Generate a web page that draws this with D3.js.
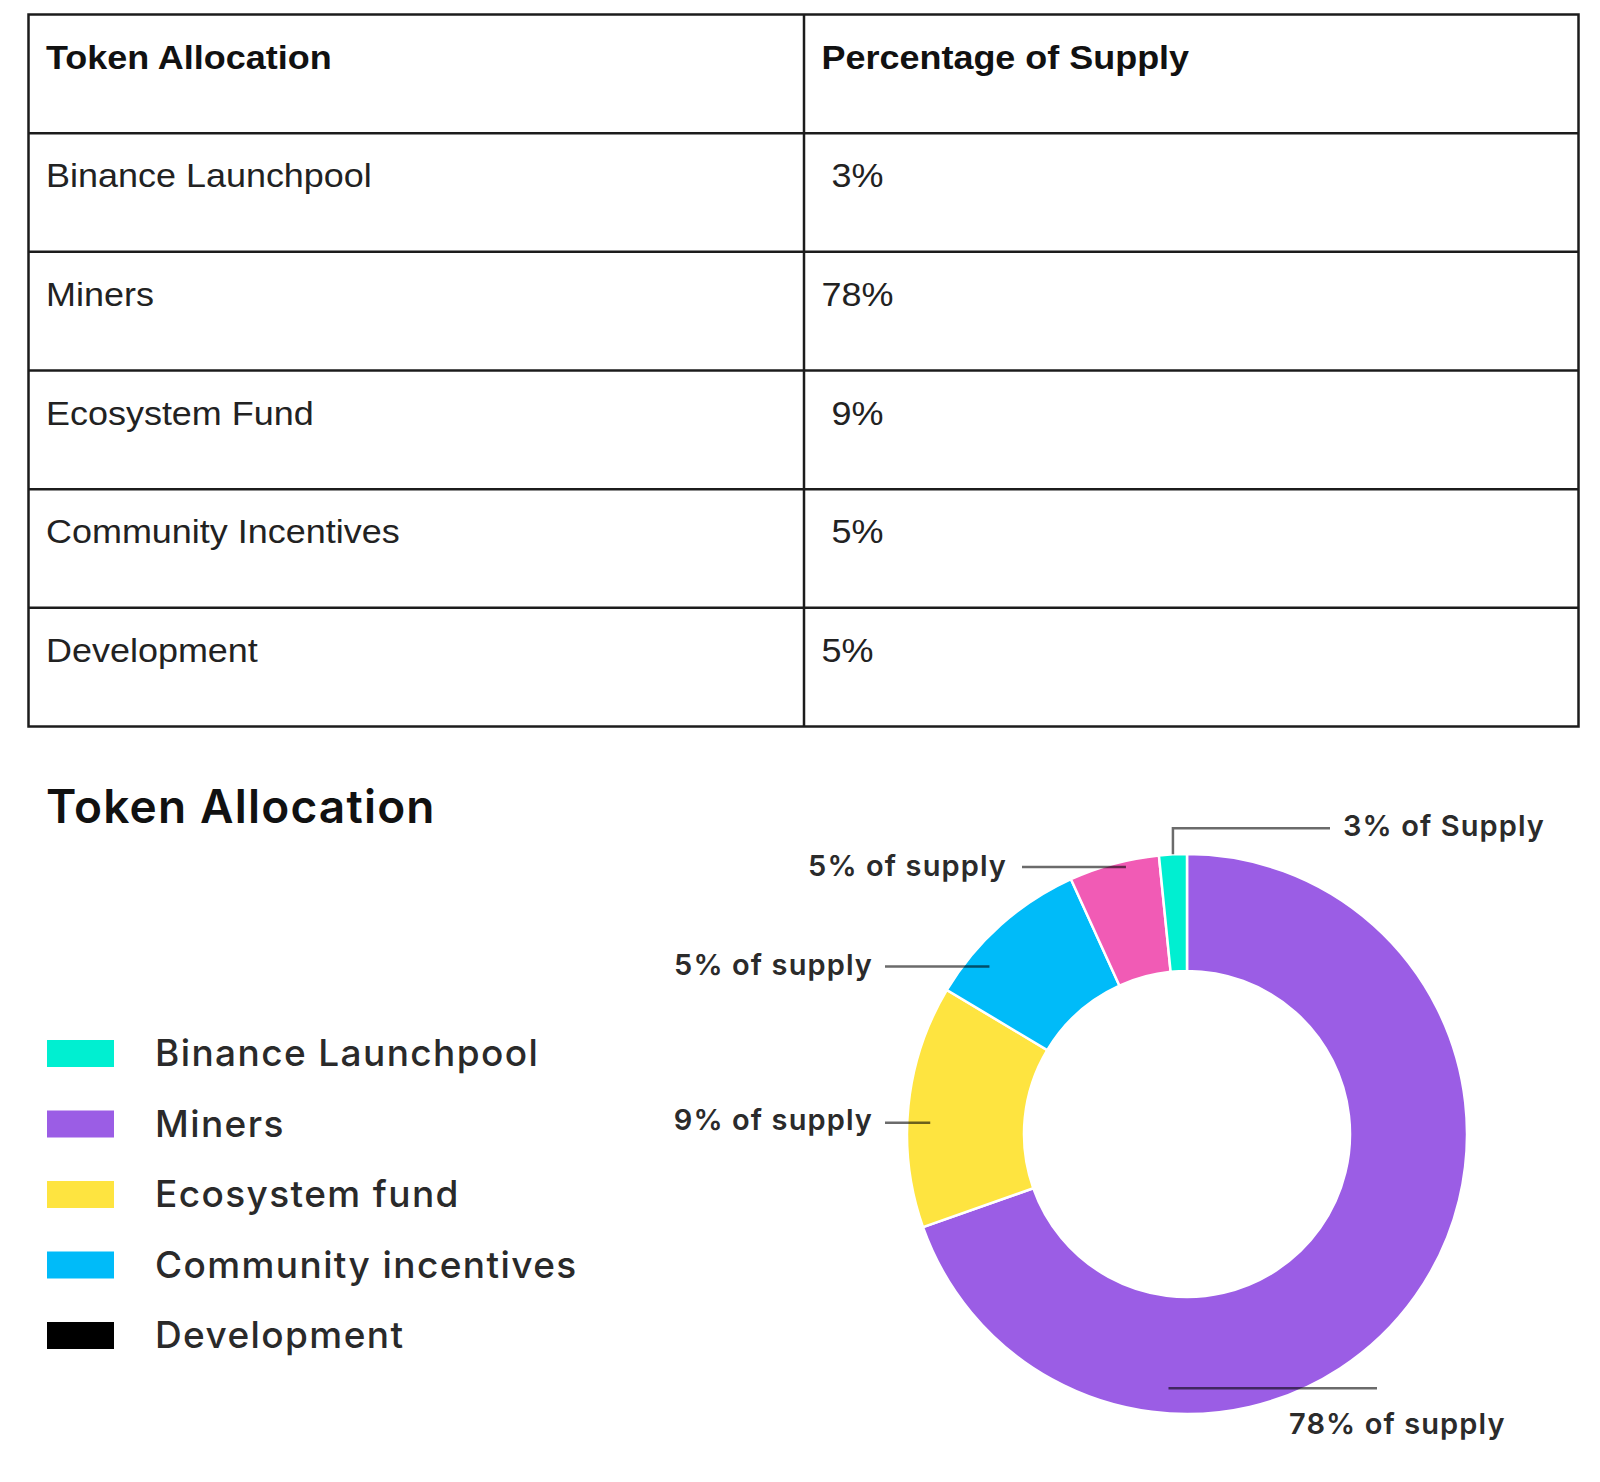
<!DOCTYPE html>
<html>
<head>
<meta charset="utf-8">
<script src="https://cdn.jsdelivr.net/npm/d3@7"></script>
<style>
  html, body { margin: 0; padding: 0; background: #fff; }
  svg { display: block; }
</style>
</head>
<body>
<svg></svg>
<script>
// table contents
const tableHeader = ["Token Allocation", "Percentage of Supply"];
const tableNames = ["Binance Launchpool", "Miners", "Ecosystem Fund", "Community Incentives", "Development"];
const tablePercents = [" 3%", "78%", " 9%", " 5%", "5%"];

// legend
const legendNames = ["Binance Launchpool", "Miners", "Ecosystem fund", "Community incentives", "Development"];
const legendColors = ["#00efd1", "#9b5de5", "#fee440", "#00bbf9", "#000000"];

const sliceNames = ["Miners", "Ecosystem fund", "Community incentives", "Development", "Binance Launchpool"];
const sliceShares = [69.6, 14.0, 9.6, 5.2, 1.6];
const sliceColors = ["#9b5de5", "#fee440", "#00bbf9", "#f15bb5", "#00efd1"];
const sliceLabels = ["78% of supply", "9% of supply", "5% of supply", "5% of supply", "3% of Supply"];

const width = 1600,
    height = 1482;

const svg = d3.select("svg")
    .attr("width", width)
    .attr("height", height)
    .attr("viewBox", `0 0 ${width} ${height}`);

svg.append("rect").attr("width", width).attr("height", height).attr("fill", "#fff");

// ---------- table ----------
const tbl = { left: 28.5, right: 1578.5, top: 14.5, bottom: 726.5, split: 804 };
const rowY = d3.scaleBand()
    .domain(d3.range(tableNames.length + 1))
    .range([tbl.top, tbl.bottom]);
const colX = [tbl.left, tbl.split];
const stretch = 1.09; // table text in the source is a bit stretched sideways

const table = svg.append("g").attr("class", "table");

const rows = [tableHeader].concat(tableNames.map((n, i) => [n, tablePercents[i]]));
rows.forEach((cells, r) => {
    cells.forEach((txt, c) => {
        table.append("text")
            .attr("transform", `translate(${colX[c] + 17.5},${rowY(r) + 54}) scale(${stretch},1)`)
            .attr("font-family", "'Liberation Sans', Arial, sans-serif")
            .attr("font-size", 33)
            .attr("font-weight", r === 0 ? 700 : 400)
            .attr("fill", r === 0 ? "#111" : "#222")
            .style("white-space", "pre")
            .text(txt);
    });
});

table.append("rect")
    .attr("x", tbl.left).attr("y", tbl.top)
    .attr("width", tbl.right - tbl.left).attr("height", tbl.bottom - tbl.top)
    .attr("fill", "none").attr("stroke", "#1c1c1c").attr("stroke-width", 2.5);

table.selectAll("line.row")
    .data(d3.range(1, tableNames.length + 1))
    .join("line")
    .attr("class", "row")
    .attr("x1", tbl.left).attr("x2", tbl.right)
    .attr("y1", d => rowY(d)).attr("y2", d => rowY(d))
    .attr("stroke", "#1c1c1c").attr("stroke-width", 2.5);

table.append("line")
    .attr("x1", tbl.split).attr("x2", tbl.split)
    .attr("y1", tbl.top).attr("y2", tbl.bottom)
    .attr("stroke", "#1c1c1c").attr("stroke-width", 2.5);

// ---------- title + legend ----------
const geo = "Inter, 'Noto Sans', sans-serif";

svg.append("text")
    .attr("x", 46)
    .attr("y", 823)
    .attr("font-family", geo)
    .attr("font-size", 46)
    .attr("font-weight", 600)
    .attr("letter-spacing", 1.2)
    .attr("fill", "#111")
    .text("Token Allocation");

const legY = d3.scalePoint()
    .domain(legendNames)
    .range([1040, 1322]);

const legend = svg.append("g").selectAll("g")
    .data(legendNames)
    .join("g")
    .attr("transform", d => `translate(0,${legY(d)})`);

legend.append("rect")
    .attr("x", 47)
    .attr("width", 67)
    .attr("height", 27)
    .attr("fill", (d, i) => legendColors[i]);

legend.append("text")
    .attr("x", 155)
    .attr("y", 26)
    .attr("font-family", geo)
    .attr("font-size", 37)
    .attr("font-weight", 500)
    .attr("letter-spacing", 1.4)
    .attr("fill", "#2a2a2a")
    .text(d => d);

// ---------- donut ----------
const cx = 1187,
    cy = 1134,
    outerR = 280,
    innerR = 163;

const pie = d3.pie().sort(null).value(d => d);
const arcs = pie(sliceShares);
const arc = d3.arc().innerRadius(innerR).outerRadius(outerR);

const donut = svg.append("g").attr("transform", `translate(${cx},${cy})`);

donut.selectAll("path")
    .data(arcs)
    .join("path")
    .attr("d", arc)
    .attr("fill", (d, i) => sliceColors[i])
    .attr("stroke", "#fff")
    .attr("stroke-width", 2.5);

// annotation layout: t = where along the slice, r = radius of the anchor
const notes = [
    { t: 0.735, r: 255, lineX: 1377, textX: 1289, dy: 46, anchor: "start" },
    { t: 0.435, r: 257, lineX: 885, textX: 873, dy: 7, anchor: "end" },
    { t: 0.27, r: 259, lineX: 885, textX: 873, dy: 8, anchor: "end" },
    { t: 0.62, r: 274, lineX: 1022, textX: 1007, dy: 9, anchor: "end" },
    { t: 0.5, r: 280, lineX: 1330, textX: 1343, elbow: -26, dy: 8, anchor: "start" }
];

const polar = (a, r) => [cx + r * Math.sin(a), cy - r * Math.cos(a)];

arcs.forEach((d, i) => {
    const n = notes[i];
    const a = d.startAngle + n.t * (d.endAngle - d.startAngle);
    const [px, py] = polar(a, n.r);
    let pts, ty;
    if (n.elbow !== undefined) {
        const ey = py + n.elbow;
        pts = [[px, py], [px, ey], [n.lineX, ey]];
        ty = ey + n.dy;
    } else {
        pts = [[px, py], [n.lineX, py]];
        ty = py + n.dy;
    }
    svg.append("path")
        .attr("d", d3.line()(pts))
        .attr("fill", "none")
        .attr("stroke", "#000")
        .attr("stroke-opacity", 0.58)
        .attr("stroke-width", 2.5);
    svg.append("text")
        .attr("x", n.textX)
        .attr("y", ty)
        .attr("text-anchor", n.anchor)
        .attr("font-family", geo)
        .attr("font-size", 29)
        .attr("font-weight", 600)
        .attr("letter-spacing", 1.1)
        .attr("fill", "#2b2b2b")
        .text(sliceLabels[i]);
});
</script>
</body>
</html>
